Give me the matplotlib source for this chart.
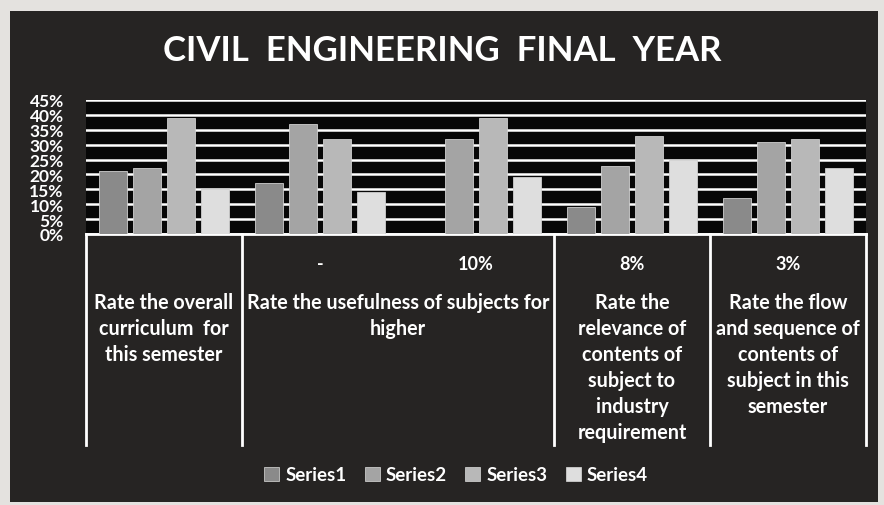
import matplotlib
matplotlib.use("Agg")
import matplotlib.pyplot as plt
import matplotlib.transforms as mtransforms
from matplotlib.patches import Patch
import numpy as np

plt.rcParams['font.family'] = ['Lato', 'DejaVu Sans']

title = "CIVIL  ENGINEERING  FINAL  YEAR"
series_names = ["Series1", "Series2", "Series3", "Series4"]
inner_labels = ["", "-", "10%", "8%", "3%"]
outer_groups = [
    ("Rate the overall\ncurriculum  for\nthis semester", 0, 0),
    ("Rate the usefulness of subjects for\nhigher", 1, 2),
    ("Rate the\nrelevance of\ncontents of\nsubject to\nindustry\nrequirement", 3, 3),
    ("Rate the flow\nand sequence of\ncontents of\nsubject in this\nsemester", 4, 4),
]
series1 = [21, 17, 0, 9, 12]
series2 = [22, 37, 32, 23, 31]
series3 = [39, 32, 39, 33, 32]
series4 = [15, 14, 19, 25, 22]
yticks = [0, 5, 10, 15, 20, 25, 30, 35, 40, 45]
ytick_labels = ["0%", "5%", "10%", "15%", "20%", "25%", "30%", "35%", "40%", "45%"]

colors = ["#8a8a8a", "#a4a4a4", "#b8b8b8", "#dedede"]

W, H = 884, 506
fig = plt.figure(figsize=(W / 100, H / 100), dpi=100, facecolor="#e4e2df")

def fx(px):
    return px / W

def fy(py):
    return 1 - py / H

# dark chart background
bg = fig.add_axes([fx(10), fy(503), fx(878) - fx(10), fy(12) - fy(503)], zorder=-5)
bg.set_facecolor("#262423")
bg.set_xticks([])
bg.set_yticks([])
for s in bg.spines.values():
    s.set_visible(False)

left, right, top, base = 86, 866, 101, 235
ax = fig.add_axes([fx(left), fy(base), fx(right) - fx(left), fy(top) - fy(base)], zorder=1)
ax.set_facecolor("#070707")

n = len(series1)
x = np.arange(n)
step = 0.218
bw = 0.18
for i, (vals, c, name) in enumerate(zip([series1, series2, series3, series4], colors, series_names)):
    ax.bar(x + (i - 1.5) * step, vals, width=bw, color=c, edgecolor="#cfcfcf",
           linewidth=0.6, label=name, zorder=3)

ax.set_xlim(-0.5, n - 0.5)
ax.set_ylim(0, 45)
ax.set_yticks(yticks)
ax.set_yticklabels(ytick_labels, fontweight="bold")
ax.tick_params(axis="y", length=0, pad=16, labelsize=12.5, labelcolor="white")
ax.set_xticks([])
ax.yaxis.grid(True, color="white", linewidth=1.8)
ax.set_axisbelow(True)
for s in ["top", "right", "left"]:
    ax.spines[s].set_visible(False)
ax.spines["bottom"].set_color("white")
ax.spines["bottom"].set_linewidth(2)

trans = mtransforms.blended_transform_factory(ax.transData, ax.transAxes)
axh = base - top
def ay(py):
    return -(py - base) / axh

# category separators
for xb in [-0.5, 0.5, 2.5, 3.5, 4.5]:
    ax.plot([xb, xb], [0, ay(446)], color="white", linewidth=2,
            transform=trans, clip_on=False, zorder=4)

for i, lab in enumerate(inner_labels):
    if lab:
        ax.text(i, ay(265), lab, transform=trans, ha="center", va="center",
                color="white", fontsize=13, clip_on=False, fontweight="bold")

for lab, a, b in outer_groups:
    ax.text((a + b) / 2, ay(293), lab, transform=trans, ha="center", va="top",
            color="white", fontsize=14.2, linespacing=1.37, clip_on=False,
            multialignment="center", fontweight="bold")

fig.text(fx(442), fy(51), title, ha="center", va="center", color="white",
         fontsize=25, fontweight="bold")

handles = [Patch(facecolor=c, edgecolor="#dddddd", linewidth=0.5) for c in colors]
fig.legend(handles, series_names, loc="center", bbox_to_anchor=(fx(456), fy(476)),
           ncol=4, frameon=False, labelcolor="white",
           prop={"weight": "bold", "size": 13.5},
           handlelength=0.8, handleheight=0.8, handletextpad=0.3, columnspacing=1.0)

fig.savefig("out.png", dpi=100, facecolor=fig.get_facecolor())
